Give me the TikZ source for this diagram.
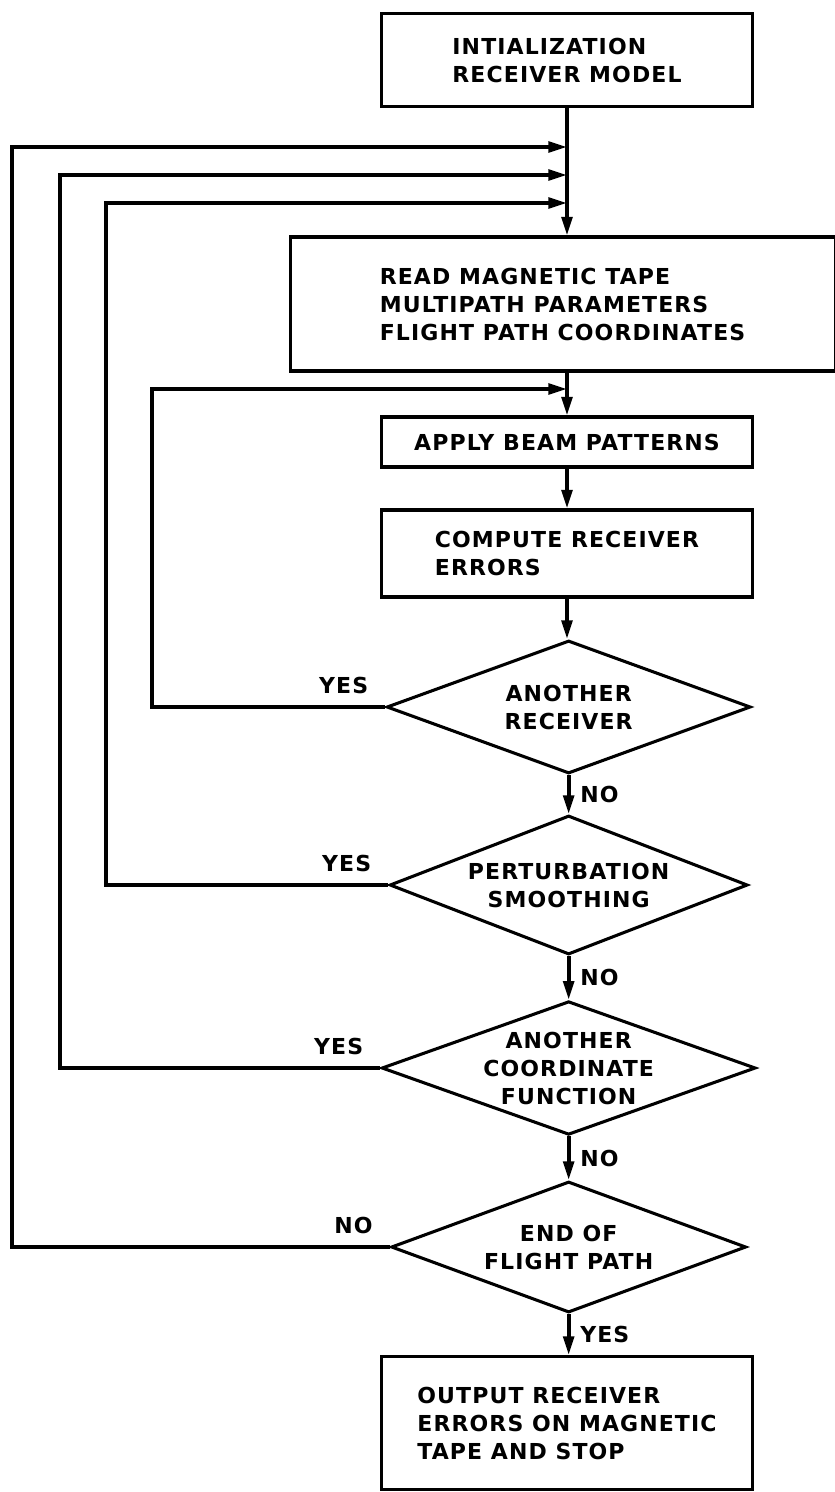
\documentclass[tikz,border=0pt]{standalone}
\usepackage{fontspec}
\setmainfont{DejaVu Sans}[LetterSpace=5]
\usetikzlibrary{positioning,arrows.meta,shapes.geometric,calc}
\newcommand{\flowfont}{\fontsize{16.5}{21}\selectfont\bfseries}

\begin{document}
\begin{tikzpicture}[
  box/.style={draw, line width=2.3pt, align=left, font=\flowfont,
              inner sep=0pt, minimum width=278pt},
  decision/.style={draw, diamond, aspect=2.8, line width=2.3pt, align=center,
                   font=\flowfont, inner sep=0pt},
  flow/.style={-{Triangle[length=14pt,width=8pt]}, line width=2.8pt},
  note/.style={font=\flowfont}
]
\useasboundingbox (0,0) rectangle (626.25pt,-1119pt);
% boxes and decisions, top to bottom
\node[box, minimum height=70pt] (init) at (425.25pt,-45pt) {INTIALIZATION\\RECEIVER MODEL};
\node[box, minimum width=408.75pt, minimum height=100.5pt] (read) at (421.9pt,-228pt)
  {READ MAGNETIC TAPE\\MULTIPATH PARAMETERS\\FLIGHT PATH COORDINATES};
\node[box, minimum height=37.5pt, align=center] (beam) at (425.25pt,-331.5pt) {APPLY BEAM PATTERNS};
\node[box, minimum height=65.25pt] (comp) at (425.25pt,-415.1pt) {COMPUTE RECEIVER\\ERRORS};
\node[decision, minimum width=273pt, minimum height=99.75pt] (recv) at (426.5pt,-530.25pt) {ANOTHER\\RECEIVER};
\node[decision, minimum width=268.5pt, minimum height=104.25pt] (pert) at (426.5pt,-663.75pt) {PERTURBATION\\SMOOTHING};
\node[decision, minimum width=273pt, minimum height=97.5pt] (coord) at (426.5pt,-801pt) {ANOTHER\\COORDINATE\\FUNCTION};
\node[decision, minimum width=266.25pt, minimum height=98.25pt] (endfp) at (426.5pt,-935.25pt) {END OF\\FLIGHT PATH};
\node[box, minimum height=99.75pt] (out) at (425.25pt,-1067.25pt)
  {OUTPUT RECEIVER\\ERRORS ON MAGNETIC\\TAPE AND STOP};
% merge points on the main line and loop corners
\coordinate (m1) at (425.25pt,-110.25pt);
\coordinate (m2) at (425.25pt,-131.25pt);
\coordinate (m3) at (425.25pt,-152.25pt);
\coordinate (m4) at (425.25pt,-291.75pt);
\coordinate (l1) at (9pt,-110.25pt);
\coordinate (l2) at (45pt,-131.25pt);
\coordinate (l3) at (79.5pt,-152.25pt);
\coordinate (l4) at (114pt,-291.75pt);
% main flow
\draw[flow] (init.south) -- (init.south |- read.north);
\draw[flow] (init.south |- read.south) -- (beam.north);
\draw[flow] (beam.south) -- (comp.north);
\draw[flow] (comp.south) -- (comp.south |- recv.north);
\draw[flow] (recv.south) -- node[note, right, xshift=4pt] {NO} (pert.north);
\draw[flow] (pert.south) -- node[note, right, xshift=4pt] {NO} (coord.north);
\draw[flow] (coord.south) -- node[note, right, xshift=4pt] {NO} (endfp.north);
\draw[flow] (endfp.south) -- node[note, right, xshift=4pt] {YES} (endfp.south |- out.north);
% loops back
\draw[flow] (recv.west) node[note, anchor=south east, xshift=-8pt, yshift=5pt] {YES}
  -- (recv.west -| l4) -- (l4) -- (m4);
\draw[flow] (pert.west) node[note, anchor=south east, xshift=-8pt, yshift=5pt] {YES}
  -- (pert.west -| l3) -- (l3) -- (m3);
\draw[flow] (coord.west) node[note, anchor=south east, xshift=-8pt, yshift=5pt] {YES}
  -- (coord.west -| l2) -- (l2) -- (m2);
\draw[flow] (endfp.west) node[note, anchor=south east, xshift=-8pt, yshift=5pt] {NO}
  -- (endfp.west -| l1) -- (l1) -- (m1);
\end{tikzpicture}
\end{document}
